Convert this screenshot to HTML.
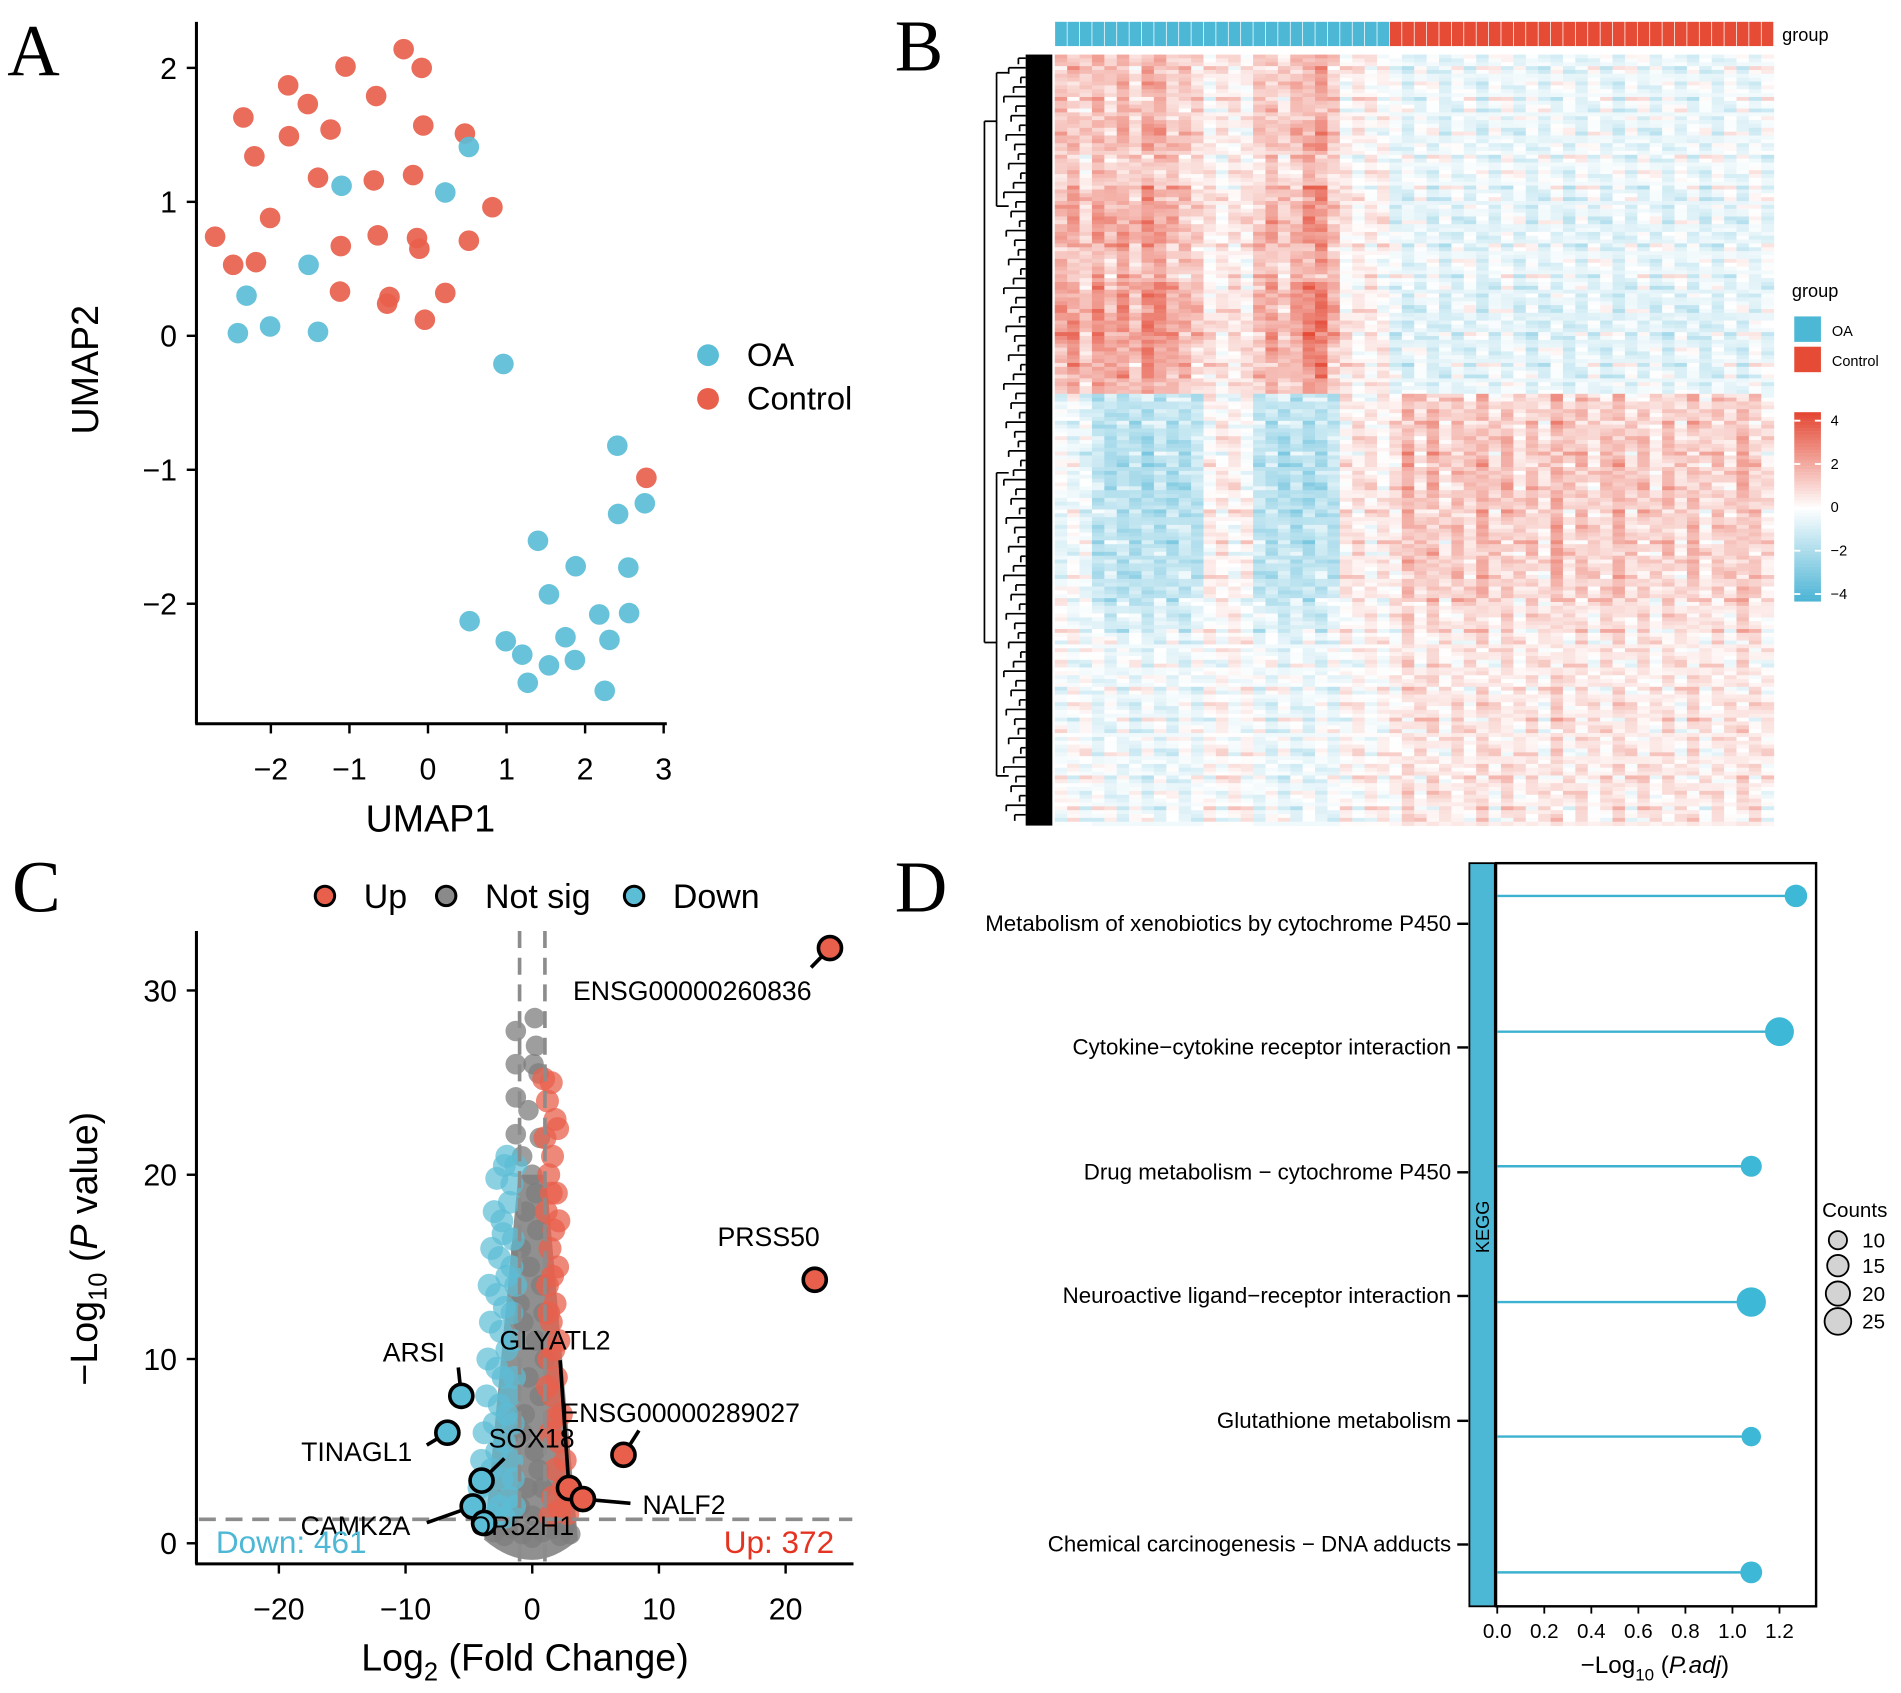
<!DOCTYPE html>
<html><head><meta charset="utf-8"><style>
html,body{margin:0;padding:0;background:#fff;}
svg{display:block;font-family:"Liberation Sans",Arial,sans-serif;}
</style></head><body>
<svg id="fig" width="1901" height="1693" viewBox="0 0 1568 1396.5" xmlns="http://www.w3.org/2000/svg">
<rect x="0" y="0" width="1568" height="1397" fill="#fff"/>
<g font-family="Liberation Serif,serif" font-size="60">
<text x="6" y="62">A</text>
<text x="738" y="58">B</text>
<text x="10" y="752">C</text>
<text x="738" y="752">D</text>
</g>
<g id="pA"></g>
<g id="pB"></g>
<g id="pC"></g>
<g id="pD"></g>
</svg>
<script>
// ---------- Panel A data ----------
const ctrlX=[-0.31,-1.05,-0.08,-1.78,-0.66,-1.53,-2.35,-0.06,0.47,-1.77,-1.24,-2.21,-1.40,-0.69,-0.19,0.82,-2.01,-2.71,-0.64,-0.14,-0.11,0.52,-1.11,-2.48,-2.19,-1.12,-0.49,-0.52,0.22,-0.04,2.78];
const ctrlY=[2.14,2.01,2.00,1.87,1.79,1.73,1.63,1.57,1.51,1.49,1.54,1.34,1.18,1.16,1.20,0.96,0.88,0.74,0.75,0.73,0.65,0.71,0.67,0.53,0.55,0.33,0.29,0.24,0.32,0.12,-1.06];
const oaX=[0.52,-1.10,0.22,-1.52,-2.31,-2.42,-2.01,-1.40,0.96,2.41,2.42,2.76,1.40,1.88,2.55,1.54,0.53,2.18,2.56,0.99,1.20,1.75,2.31,1.54,1.87,1.27,2.25];
const oaY=[1.41,1.12,1.07,0.53,0.30,0.02,0.07,0.03,-0.21,-0.82,-1.33,-1.25,-1.53,-1.72,-1.73,-1.93,-2.13,-2.08,-2.07,-2.28,-2.38,-2.25,-2.27,-2.46,-2.42,-2.59,-2.65];
const umapXTicks=[-2,-1,0,1,2,3];
const umapYTicks=[-2,-1,0,1,2];
// ---------- Panel B data ----------
const oaUpper=[1.6,1.8,0.9,2.0,1.4,1.9,1.2,2.2,2.0,1.5,1.3,1.0,0.4,0.3,0.5,0.4,1.2,1.7,1.0,1.6,2.2,2.4,1.3,0.3,0.2,0.3,0.2];
const oaLower=[-0.3,-0.2,-0.4,-1.3,-1.4,-1.5,-1.5,-1.6,-1.4,-1.5,-1.4,-1.3,0.2,0.3,0.2,0.1,-1.3,-1.4,-1.5,-1.5,-1.6,-1.4,-1.3,0.4,0.5,0.4,0.3];
const ctrlUpper=[-0.5,-0.6,-0.4,-0.5,-0.6,-0.5,-0.4,-0.6,-0.5,-0.3,-0.5,-0.6,-0.5,-0.4,-0.6,-0.5,-0.4,-0.5,-0.6,-0.5,-0.4,-0.5,-0.6,-0.4,-0.5,-0.6,-0.5,-0.4,-0.5,-0.3,-0.4];
const ctrlLower=[0.5,1.6,0.9,1.4,0.7,1.2,0.9,1.6,0.8,1.3,0.7,1.1,0.6,1.7,0.8,1.2,0.7,1.0,1.5,0.8,1.1,0.6,1.2,0.7,1.3,0.6,1.0,0.8,1.4,1.0,0.5];
const bandAmp=[0.8,0.7,0.9,0.6,1.0,1.1,0.8,1.2,1.3,1.1,0.9,1.0,1.1,1.1,1.0,1.0,0.9,0.6,0.5,0.5,0.6,0.5,0.6,0.5];
const rowTex=[0.5,-0.4,0.2,0.9,-0.6,0.1,-0.2,0.7,-0.5,0.3,-0.1,1.0,-0.3,0.4,-0.8,0.0,0.6,-0.2,0.3,-0.7,0.8,-0.1,0.2];
const colTex=[0.9,-0.7,0.4,-0.9,0.6,-0.3,1.0,-0.5,0.2,0.8,-1.0];
const scaleTicks=[4,2,0,-2,-4];
// ---------- Panel C data ----------
const downPts=[[-2.8,19.8],[-2.2,20.5],[-1.6,19.5],[-3.0,18],[-2.4,17.5],[-1.8,18.5],[-3.2,16],[-2.6,15.5],[-1.5,16.5],[-3.4,14],[-2.8,13.5],[-2.0,14.5],[-3.3,12],[-2.5,11.5],[-1.6,12.5],[-3.5,10],[-2.8,9.5],[-2.0,10.5],[-1.4,9],[-3.6,8],[-2.6,7.5],[-1.8,8],[-3.8,6],[-3.0,6.5],[-2.2,5.5],[-1.5,6.5],[-4.0,4.5],[-3.2,4],[-2.4,3.5],[-1.6,4.5],[-4.2,3],[-3.4,2.5],[-2.6,2],[-1.8,2.5],[-3.0,1.5],[-2.2,1.4],[-1.4,2],[-1.3,14],[-1.3,20.5],[-2.0,21],[-2.3,16.8],[-2.2,12.8],[-2.3,9],[-2.0,7],[-2.8,5],[-1.5,11],[-1.6,15],[-1.5,3.5]];
const upPts=[[0.9,25.2],[1.5,25],[1.2,24],[1.8,23],[1.0,22],[1.6,21],[1.3,20],[1.9,19],[1.1,18],[1.7,17],[1.4,16],[2.0,15],[1.2,14],[1.8,13],[1.5,12],[2.1,11],[1.3,10],[1.9,9],[1.6,8],[2.3,7],[1.4,6],[2.1,5.5],[2.6,4.5],[1.8,4],[2.4,3],[3.0,2.5],[1.6,2.5],[2.2,1.8],[2.8,1.6],[1.4,1.5],[2.0,22.5],[2.1,17.5],[1.5,19],[1.6,14.5],[1.7,10.5],[1.8,6.8],[1.3,12.5],[1.2,8.5]];
const nsPts=[[-1.3,27.8],[-1.3,26],[-1.3,24.2],[-1.3,22.2],[0.2,28.5],[0.3,27],[0.1,26],[0.5,25.5],[-0.8,21],[0.0,20],[0.6,22],[-0.5,18],[0.4,17],[-0.2,15],[0.7,14],[-0.7,12],[0.3,11],[-0.3,9],[0.6,8],[-0.8,6],[0.2,5],[-0.4,3],[0.8,3],[-1.0,2],[0,1.5],[-1.6,0.8],[-0.8,0.5],[0.8,0.6],[1.6,0.8],[-2.2,0.4],[2.2,0.4],[0,0.3],[-0.3,23.5],[0.3,19],[-0.9,16],[0.9,12.5],[-0.6,7],[1.0,10],[-1.0,13],[0.5,4],[-3.0,0.6],[3.0,0.5],[-2.6,1],[2.6,1]];
const geneNames=["ENSG00000260836","PRSS50","ARSI","TINAGL1","ENSG00000289027","GLYATL2","NALF2","SOX18","CAMK2A","OR52H1"];
const geneFC=[23.5,22.3,-5.6,-6.7,7.2,2.9,4.0,-4.0,-4.7,-3.8];
const geneP=[32.3,14.3,8.0,6.0,4.8,3.0,2.4,3.4,2.0,1.1];
const volXTicks=[-20,-10,0,10,20];
const volYTicks=[0,10,20,30];
const downCount=461, upCount=372;
// ---------- Panel D data ----------
const pathways=["Metabolism of xenobiotics by cytochrome P450","Cytokine\u2212cytokine receptor interaction","Drug metabolism \u2212 cytochrome P450","Neuroactive ligand\u2212receptor interaction","Glutathione metabolism","Chemical carcinogenesis \u2212 DNA adducts"];
const pathP=[1.27,1.20,1.08,1.08,1.08,1.08];
const pathCount=[11,22,9,23,7,10];
const keggXTicks=[0.0,0.2,0.4,0.6,0.8,1.0,1.2];
const countLegend=[10,15,20,25];

const NS="http://www.w3.org/2000/svg";
function mk(tag,attrs,parent,txt){const e=document.createElementNS(NS,tag);for(const k in attrs)e.setAttribute(k,attrs[k]);if(txt!==undefined)e.textContent=txt;parent.appendChild(e);return e;}
const RED="#E8604C",BLUE="#5BBDD6";

// ---------- Panel A ----------
(function(){
const g=document.getElementById('pA');
const sx=v=>353+v*64.8, sy=v=>277-v*110.5;
let e;
e=mk('line',{x1:162,y1:18,x2:162,y2:597,stroke:'#000','stroke-width':2.5},g);

e=mk('line',{x1:161,y1:597,x2:550,y2:597,stroke:'#000','stroke-width':2.5},g);

umapXTicks.forEach(t=>{mk('line',{x1:sx(t),y1:597,x2:sx(t),y2:605,stroke:'#000','stroke-width':2},g);
e=mk('text',{x:sx(t),y:643,'font-size':25,'text-anchor':'middle'},g,(t<0?'\u2212':'')+Math.abs(t));
});
umapYTicks.forEach(t=>{mk('line',{x1:154,y1:sy(t),x2:162,y2:sy(t),stroke:'#000','stroke-width':2},g);
e=mk('text',{x:146,y:sy(t)+9,'font-size':25,'text-anchor':'end'},g,(t<0?'\u2212':'')+Math.abs(t));
});
e=mk('text',{x:355,y:686,'font-size':31,'text-anchor':'middle'},g,'UMAP1');

e=mk('text',{x:0,y:0,'font-size':31,'text-anchor':'middle',transform:'translate(81,305) rotate(-90)'},g,'UMAP2');

ctrlX.forEach((x,i)=>{e=mk('circle',{cx:sx(x),cy:sy(ctrlY[i]),r:8.5,fill:RED,'fill-opacity':0.92},g);
});
oaX.forEach((x,i)=>{e=mk('circle',{cx:sx(x),cy:sy(oaY[i]),r:8.5,fill:BLUE,'fill-opacity':0.92},g);
});
e=mk('circle',{cx:584,cy:293,r:9,fill:BLUE},g);
e=mk('text',{x:616,y:302,'font-size':27},g,'OA');
e=mk('circle',{cx:584,cy:329,r:9,fill:RED},g);
e=mk('text',{x:616,y:338,'font-size':27},g,'Control');
})();

// ---------- Panel B ----------
(function(){
const g=document.getElementById('pB');
const X0=870,X1=1463,Y0=45,Y1=681,NR=200;
const nOA=oaUpper.length,nC=ctrlUpper.length,NC=nOA+nC;
const cw=(X1-X0)/NC, rh=(Y1-Y0)/NR;
function col(v){let t=Math.max(-1,Math.min(1,v/4));
 let a,b;if(t>=0){a=[255,255,255];b=[228,72,52];}else{a=[255,255,255];b=[72,178,212];t=-t;}
 return 'rgb('+a.map((c,i)=>Math.round(c+(b[i]-c)*t)).join(',')+')';}
let e;
const splitRow=Math.round(NR*0.44);
for(let r=0;r<NR;r++){const band=Math.min(23,Math.floor(r*24/NR)),upper=r<splitRow,weak=band>=18;
 for(let c=0;c<NC;c++){
  let base;
  if(c<nOA) base=upper?oaUpper[c]:oaLower[c]*(weak?0.45:1);
  else base=upper?ctrlUpper[c-nOA]:ctrlLower[c-nOA]*(weak?0.85:1.0);
  const v=base*bandAmp[band]+rowTex[r%23]*colTex[(c*3+r)%11]*1.3;
  e=mk('rect',{x:X0+c*cw,y:Y0+r*rh,width:cw+0.4,height:rh+0.4,fill:col(v)},g);
  
 }}
for(let c=0;c<NC;c++){e=mk('rect',{x:X0+c*cw+0.3,y:18,width:cw-0.6,height:20,fill:c<nOA?'#4DB8D5':'#E64B35'},g);
 }
e=mk('text',{x:1470,y:34,'font-size':15},g,'group');
const dg=mk('g',{stroke:'#000','stroke-width':1.4,fill:'none'},g);

mk('rect',{x:846,y:45,width:22,height:636,fill:'#000',stroke:'none'},dg);
mk('path',{d:'M812,100 V530 M812,100 H822 M812,530 H822 M822,60 V170 M822,390 V640 M822,60 H832 M822,170 H832 M822,390 H832 M822,640 H832'},dg);
for(let i=0;i<80;i++){const y=48+i*7.9;const w=[6,14,4,10,18,8,12,5,16,9][i%10];mk('line',{x1:846-w,y1:y,x2:846,y2:y},dg);mk('line',{x1:846-w,y1:y,x2:846-w,y2:y+5},dg);}
e=mk('text',{x:1478,y:245,'font-size':15},g,'group');
e=mk('rect',{x:1480,y:261,width:22,height:21,fill:'#4DB8D5'},g);
e=mk('text',{x:1511,y:277,'font-size':12},g,'OA');
e=mk('rect',{x:1480,y:286,width:22,height:21,fill:'#E64B35'},g);
e=mk('text',{x:1511,y:302,'font-size':12},g,'Control');
const cb=mk('g',{},g);
for(let i=0;i<60;i++){const v=4-i*8/60;mk('rect',{x:1480,y:340+i*2.6,width:22,height:2.8,fill:col(v)},cb);}
scaleTicks.forEach(t=>{const y=347+(4-t)/8*143;mk('line',{x1:1480,y1:y,x2:1485,y2:y,stroke:'#fff','stroke-width':1.5},cb);mk('line',{x1:1497,y1:y,x2:1502,y2:y,stroke:'#fff','stroke-width':1.5},cb);
 e=mk('text',{x:1510,y:y+4,'font-size':12},cb,(t<0?'\u2212':'')+Math.abs(t));});
})();

// ---------- Panel C ----------
(function(){
const g=document.getElementById('pC');
const sx=v=>439+v*10.45, sy=v=>1273-v*15.2;
let e;
[['Up',RED,259,300],['Not sig','#8a8a8a',359,400],['Down',BLUE,514,555]].forEach(L=>{
 e=mk('circle',{cx:L[2]+9,cy:739,r:8,fill:L[1],stroke:'#000','stroke-width':2.5},g);
 e=mk('text',{x:L[3],y:749,'font-size':28},g,L[0]);});
nsPts.forEach(p=>{e=mk('circle',{cx:sx(p[0]),cy:sy(p[1]),r:8.5,fill:'#7d7d7d','fill-opacity':0.75},g);});
e=mk('path',{d:'M'+sx(-3.8)+','+sy(0.2)+' Q'+sx(0)+','+sy(-2)+' '+sx(3.6)+','+sy(0.2)+' L'+sx(1.1)+','+sy(20)+' L'+sx(-1.1)+','+sy(20)+' Z',fill:'#7d7d7d','fill-opacity':0.85},g);

downPts.forEach(p=>{e=mk('circle',{cx:sx(p[0]),cy:sy(p[1]),r:9.5,fill:BLUE,'fill-opacity':0.7},g);});
upPts.forEach(p=>{e=mk('circle',{cx:sx(p[0]),cy:sy(p[1]),r:9.5,fill:RED,'fill-opacity':0.75},g);});
e=mk('line',{x1:164,y1:sy(1.3),x2:703,y2:sy(1.3),stroke:'#8c8c8c','stroke-width':3,'stroke-dasharray':'14,8'},g);
[-1,1].forEach(t=>{e=mk('line',{x1:sx(t),y1:768,x2:sx(t),y2:1288,stroke:'#8c8c8c','stroke-width':3,'stroke-dasharray':'14,8'},g);});
const lblPos=[[571,825,'middle'],[634,1028,'middle'],[367,1123,'end'],[340,1205,'end'],[463,1173,'start'],[412,1113,'start'],[530,1249,'start'],[403,1194,'start'],[248,1266,'start'],[388,1266,'start']];
const lnEnd=[[669,798],null,[378,1128],[352,1192],[527,1180],[462,1122],[520,1240],[416,1203],[352,1256],null];
geneNames.forEach((n,i)=>{const px=sx(geneFC[i]),py=sy(geneP[i]);
 if(lnEnd[i]){e=mk('line',{x1:px,y1:py,x2:lnEnd[i][0],y2:lnEnd[i][1],stroke:'#000','stroke-width':3},g);}
 e=mk('circle',{cx:px,cy:py,r:9.5,fill:geneFC[i]>0?RED:BLUE,stroke:'#000','stroke-width':3},g);
 e=mk('text',{x:lblPos[i][0],y:lblPos[i][1],'font-size':22,'text-anchor':lblPos[i][2]},g,n);});
e=mk('text',{x:178,y:1281,'font-size':26,fill:'#4DB8D5'},g,'Down: '+downCount);
e=mk('text',{x:688,y:1281,'font-size':26,fill:'#E53322','text-anchor':'end'},g,'Up: '+upCount);
e=mk('line',{x1:162,y1:768,x2:162,y2:1290,stroke:'#000','stroke-width':2.5},g);
e=mk('line',{x1:161,y1:1290,x2:704,y2:1290,stroke:'#000','stroke-width':2.5},g);
volXTicks.forEach(t=>{mk('line',{x1:sx(t),y1:1290,x2:sx(t),y2:1298,stroke:'#000','stroke-width':2},g);
 e=mk('text',{x:sx(t),y:1336,'font-size':25,'text-anchor':'middle'},g,(t<0?'\u2212':'')+Math.abs(t));});
volYTicks.forEach(t=>{mk('line',{x1:154,y1:sy(t),x2:162,y2:sy(t),stroke:'#000','stroke-width':2},g);
 e=mk('text',{x:146,y:sy(t)+9,'font-size':25,'text-anchor':'end'},g,String(t));});
e=mk('text',{x:433,y:1378,'font-size':31,'text-anchor':'middle'},g);
e.innerHTML='Log<tspan font-size="21" dy="8">2</tspan><tspan dy="-8"> (Fold Change)</tspan>';
e=mk('text',{x:0,y:0,'font-size':31,'text-anchor':'middle',transform:'translate(80,1030) rotate(-90)'},g);
e.innerHTML='\u2212Log<tspan font-size="21" dy="8">10</tspan><tspan dy="-8"> (</tspan><tspan font-style="italic">P</tspan><tspan> value)</tspan>';
})();

// ---------- Panel D ----------
(function(){
const g=document.getElementById('pD');
const sx=v=>1235+v*194;
const rowY=[739,851,962,1074,1185,1297], lblY=[762,864,967,1069,1172,1274];
const rad=c=>3+Math.sqrt(c)*1.9;
let e;
e=mk('rect',{x:1212,y:712,width:21,height:613,fill:'#4DB8D5',stroke:'#000','stroke-width':1.5},g);
e=mk('text',{x:0,y:0,'font-size':15,'text-anchor':'middle',transform:'translate(1228,1012) rotate(-90)'},g,'KEGG');
e=mk('rect',{x:1234,y:712,width:264,height:613,fill:'none',stroke:'#000','stroke-width':2},g);
pathways.forEach((p,i)=>{
 e=mk('line',{x1:sx(0),y1:rowY[i],x2:sx(pathP[i]),y2:rowY[i],stroke:'#3DB2D0','stroke-width':2},g);
 e=mk('circle',{cx:sx(pathP[i]),cy:rowY[i],r:rad(pathCount[i]),fill:'#3DB8D6'},g);
 mk('line',{x1:1202,y1:lblY[i],x2:1211,y2:lblY[i],stroke:'#000','stroke-width':2},g);
 e=mk('text',{x:1197,y:lblY[i]+6,'font-size':18.4,'text-anchor':'end'},g,p);});
keggXTicks.forEach(t=>{mk('line',{x1:sx(t),y1:1325,x2:sx(t),y2:1331,stroke:'#000','stroke-width':1.5},g);
 e=mk('text',{x:sx(t),y:1351,'font-size':17,'text-anchor':'middle'},g,t.toFixed(1));});
e=mk('text',{x:1365,y:1380,'font-size':20,'text-anchor':'middle'},g);
e.innerHTML='\u2212Log<tspan font-size="14" dy="6">10</tspan><tspan dy="-6"> (</tspan><tspan font-style="italic">P.adj</tspan>)';
e=mk('text',{x:1503,y:1004,'font-size':17},g,'Counts');
const ly=[1023,1044,1067,1090];
countLegend.forEach((c,i)=>{e=mk('circle',{cx:1516,cy:ly[i],r:rad(c)-1.5,fill:'#d3d3d3',stroke:'#000','stroke-width':1.5},g);
 e=mk('text',{x:1536,y:ly[i]+6,'font-size':17},g,String(c));});
})();
</script>
</body></html>
